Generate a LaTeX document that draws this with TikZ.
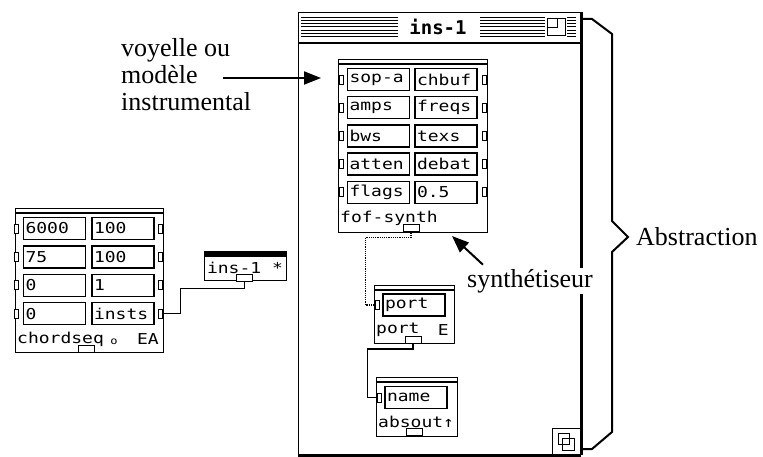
\documentclass[tikz,border=0pt]{standalone}
\usepackage{fontspec}
\usetikzlibrary{arrows.meta,positioning}
\newfontfamily\pwfont[FakeStretch=1.2]{DejaVu Sans Mono}
\newfontfamily\titlefont{DejaVu Sans Mono}
\newfontfamily\notefont{Liberation Serif}

\tikzset{
  pwbox/.style={draw, line width=1.2pt, inner sep=0pt, anchor=north west},
  cell/.style={draw, line width=1.4pt, inner sep=2pt, minimum height=22pt,
    text width=58pt, align=left, font=\pwfont\fontsize{15}{17}\selectfont},
  inlet/.style={draw, line width=0.9pt, fill=white, minimum width=4pt,
    minimum height=9pt, inner sep=0pt},
  outlet/.style={draw, line width=1pt, fill=white, minimum width=16pt,
    minimum height=7pt, inner sep=0pt},
  pwlabel/.style={font=\pwfont\fontsize{15}{17}\selectfont, inner sep=0pt, anchor=west},
  note/.style={font=\notefont\fontsize{26}{27.5}\selectfont, inner sep=0pt},
  wire/.style={line width=1.2pt},
  arr/.style={line width=2pt, -{Triangle[length=17pt,width=13pt]}},
}

\begin{document}
\begin{tikzpicture}[x=1pt, y=-1pt]
\useasboundingbox (0,0) rectangle (763,457);

% fenetre ins-1
\node[pwbox, line width=1.3pt, minimum width=282pt, minimum height=442pt] (win) at (298,12) {};
\draw[line width=3.5pt] (win.north east) -- (win.south east);
\draw[line width=2.5pt] (win.south west) -- (win.south east);
\draw[line width=1.3pt] (298,43) -- (580,43);
\foreach \i in {0,...,6} {
  \draw[line width=0.8pt] (301,{17+3.3*\i}) -- (398,{17+3.3*\i});
  \draw[line width=0.8pt] (480,{17+3.3*\i}) -- (545,{17+3.3*\i});
  \draw[line width=0.8pt] (567,{17+3.3*\i}) -- (576,{17+3.3*\i});
}
\node[font=\titlefont\bfseries\fontsize{19}{21}\selectfont, inner sep=0pt] (title) at (438,27) {ins-1};
\draw[line width=1pt, fill=white] (547,19) rectangle (565,36);
\draw[line width=1pt] (557,19) -- (557,28) -- (547,28);
% boite de redimensionnement
\draw[line width=1pt] (552,428) rectangle (580,454);
\draw[line width=1pt] (558,433) rectangle (569,444);
\draw[line width=1pt] (562,438) rectangle (574,450);

% fof-synth
\node[pwbox, minimum width=149pt, minimum height=173pt] (fof) at (338,59) {};
\draw[line width=1.2pt] ([yshift=-5pt]fof.north west) -- ([yshift=-5pt]fof.north east);
\foreach \t/\u [count=\i] in {sop-a/chbuf, amps/freqs, bws/texs, atten/debat, flags/0.5} {
  \node[cell] (fl\i) at (378.5,{79.5+28.2*(\i-1)}) {\t};
  \node[cell] (fr\i) at (446,{79.5+28.2*(\i-1)}) {\u};
  \node[inlet] (fin\i) at (341,{79.5+28.2*(\i-1)}) {};
  \node[inlet] (fout\i) at (484,{79.5+28.2*(\i-1)}) {};
}
\node[pwlabel] (foflab) at (340,218) {fof-synth};
\node[outlet] (fofout) at (411,228.5) {};

% port
\node[pwbox, minimum width=80pt, minimum height=58pt] (port) at (374,285) {};
\draw[line width=1.2pt] ([yshift=-5pt]port.north west) -- ([yshift=-5pt]port.north east);
\node[cell] (portcell) at (414,305) {port};
\node[inlet] (portin) at (377,305) {};
\node[pwlabel] (portlab) at (376,330) {port};
\node[pwlabel, anchor=east] (portE) at (449,330) {E};
\node[outlet] (portout) at (413,340) {};

% absout
\node[pwbox, minimum width=81pt, minimum height=59pt] (absout) at (376,377) {};
\draw[line width=1.2pt] ([yshift=-5pt]absout.north west) -- ([yshift=-5pt]absout.north east);
\node[cell] (abscell) at (416,397.5) {name};
\node[inlet] (absin) at (379,397.5) {};
\node[pwlabel] (abslab) at (378,422) {absout↑};
\node[outlet] (absoutlet) at (414.5,432) {};

% chordseq
\node[pwbox, minimum width=148pt, minimum height=144pt] (chs) at (15,208) {};
\draw[line width=1.2pt] ([yshift=-5pt]chs.north west) -- ([yshift=-5pt]chs.north east);
\foreach \t/\u [count=\i] in {6000/100, 75/100, 0/1, 0/insts} {
  \node[cell] (cl\i) at (54.5,{228.5+28.4*(\i-1)}) {\t};
  \node[cell] (cr\i) at (123,{228.5+28.4*(\i-1)}) {\u};
  \node[inlet] (cin\i) at (16,{228.5+28.4*(\i-1)}) {};
  \node[inlet] (cout\i) at (160,{228.5+28.4*(\i-1)}) {};
}
\node[pwlabel] (chslab) at (17,339) {chordseq};
\node[font=\pwfont\fontsize{10}{12}\selectfont, inner sep=0pt] (chso) at (114,342) {o};
\node[pwlabel, anchor=east] (chsEA) at (159,339) {EA};
\node[outlet] (chsout) at (86,348.5) {};

% ins-1 *
\node[pwbox, minimum width=82pt, minimum height=29pt] (insbox) at (204,251) {};
\fill (204,251) rectangle (286,257);
\node[pwlabel, anchor=center] (inslab) at (245,268) {ins-1 *};
\node[outlet] (insout) at (244.5,277.5) {};

% connexions
\draw[wire] (cout4.east) -- ++(18,0) |- ([yshift=-7pt]insout.south) -- (insout.south);
\draw[wire, densely dotted] (fofout.south) -- ++(0,5) -| ([xshift=-9pt]portin.west) -- (portin.west);
\draw[wire] (portout.south) -- ++(0,5) -| ([xshift=-9pt]absin.west) -- (absin.west);

% annotations
\node[note, anchor=base west] (v1) at (121,57) {voyelle ou};
\node[note, anchor=base west] (v2) at (121,84) {modèle};
\node[note, anchor=base west] (v3) at (121,111) {instrumental};
\coordinate (voytail) at (223,78);
\coordinate (voytip) at (321,78);
\draw[arr] (voytail) -- (voytip);

\node[note, fill=white, inner sep=1pt, anchor=base west] (synth) at (466,287) {synthétiseur};
\coordinate (syntip) at (452,236);
\draw[arr] ([xshift=17pt,yshift=3pt]synth.north west) -- (syntip);

\draw[line width=2pt] (580,19) -- (592,19) -- (612,34) -- (612,221) -- (628,237)
  -- (612,252) -- (612,432) -- (592,449) -- (580,449);
\node[note, anchor=base west] (abstr) at (636,245) {Abstraction};
\end{tikzpicture}
\end{document}
